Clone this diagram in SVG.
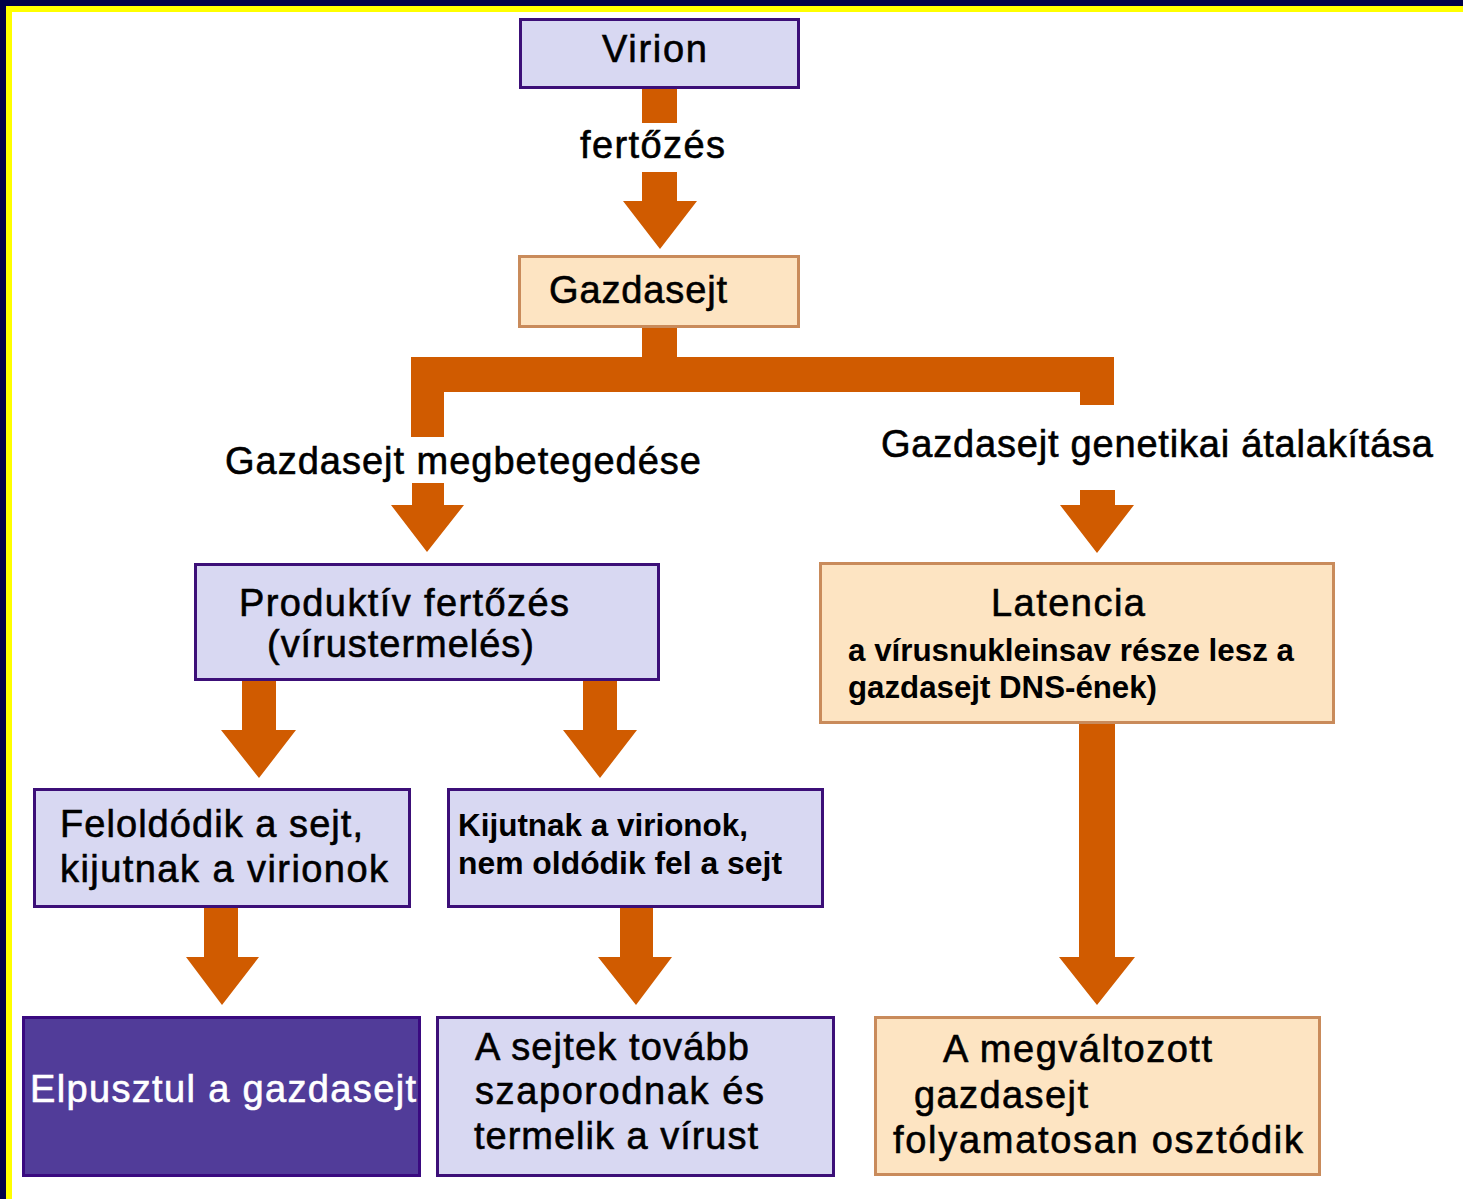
<svg xmlns="http://www.w3.org/2000/svg" width="1463" height="1199" viewBox="0 0 1463 1199">
<style>
text{font-family:"Liberation Sans",Arial,sans-serif;fill:#000;}
.t{font-size:38px;stroke:#000;stroke-width:0.6px;}
.lbl{font-size:38px;stroke:#000;stroke-width:0.6px;}
.nb{font-size:31px;font-weight:bold;}
.purple{fill:#d8d8f2;stroke:#3c0f78;stroke-width:3;}
.peach{fill:#fde4c2;stroke:#c98b5b;stroke-width:3;}
.dark{fill:#513c99;stroke:#3a0a80;stroke-width:3;}
.arr{fill:#d05b00;}
</style>
<rect x="0" y="0" width="1463" height="1199" fill="#ffffff"/>
<rect x="0" y="0" width="1463" height="6" fill="#000048"/>
<rect x="0" y="0" width="6" height="1199" fill="#000048"/>
<rect x="6" y="6" width="1457" height="6" fill="#ffff00"/>
<rect x="6" y="6" width="6" height="1193" fill="#ffff00"/>

<g id="connectors">
<rect class="arr" x="642" y="88" width="35" height="35"/>
<path class="arr" d="M642,172 H677 V201 H697 L660,249 L623,201 H642 Z"/>
<path class="arr" d="M642,327 H677 V357 H1114 V405 H1080 V392 H444 V437 H411 V357 H642 Z"/>
<path class="arr" d="M412,483 H444 V505 H464 L427,552 L391,505 H412 Z"/>
<path class="arr" d="M1080,490 H1115 V505 H1134 L1097,553 L1060,505 H1080 Z"/>
<path class="arr" d="M242,681 H276 V730 H296 L259,778 L221,730 H242 Z"/>
<path class="arr" d="M583,681 H617 V730 H637 L600,778 L563,730 H583 Z"/>
<path class="arr" d="M204,907 H238 V957 H259 L222,1005 L186,957 H204 Z"/>
<path class="arr" d="M620,907 H653 V957 H672 L636,1005 L598,957 H620 Z"/>
<path class="arr" d="M1079,723 H1115 V957 H1135 L1097,1005 L1059,957 H1079 Z"/>
<text class="lbl" x="580" y="158" textLength="145" lengthAdjust="spacing">fertőzés</text>
<text class="lbl" x="225" y="474" textLength="476" lengthAdjust="spacing">Gazdasejt megbetegedése</text>
<text class="lbl" x="881" y="457" textLength="552" lengthAdjust="spacing">Gazdasejt genetikai átalakítása</text>
</g>

<g id="virion">
<rect class="purple" x="520.5" y="19.5" width="278" height="68"/>
<text class="t" x="602" y="62" textLength="105" lengthAdjust="spacing">Virion</text>
</g>

<g id="gazdasejt">
<rect class="peach" x="519.5" y="256.5" width="279" height="70"/>
<text class="t" x="549" y="303" textLength="178" lengthAdjust="spacing">Gazdasejt</text>
</g>

<g id="produktiv">
<rect class="purple" x="195.5" y="564.5" width="463" height="115"/>
<text class="t" x="239" y="616" textLength="330" lengthAdjust="spacing">Produktív fertőzés</text>
<text class="t" x="267" y="657" textLength="267" lengthAdjust="spacing">(vírustermelés)</text>
</g>

<g id="latencia">
<rect class="peach" x="820.5" y="563.5" width="513" height="159"/>
<text class="t" x="991" y="616" textLength="154" lengthAdjust="spacing">Latencia</text>
<text class="nb" x="848" y="661" textLength="446" lengthAdjust="spacingAndGlyphs">a vírusnukleinsav része lesz a</text>
<text class="nb" x="848" y="698" textLength="309" lengthAdjust="spacingAndGlyphs">gazdasejt DNS-ének)</text>
</g>

<g id="feloldodik">
<rect class="purple" x="34.5" y="789.5" width="375" height="117"/>
<text class="t" x="60" y="837" textLength="303" lengthAdjust="spacing">Feloldódik a sejt,</text>
<text class="t" x="60" y="882" textLength="328" lengthAdjust="spacing">kijutnak a virionok</text>
</g>

<g id="kijutnak">
<rect class="purple" x="448.5" y="789.5" width="374" height="117"/>
<text class="nb" x="458" y="836" textLength="290" lengthAdjust="spacingAndGlyphs">Kijutnak a virionok,</text>
<text class="nb" x="458" y="874" textLength="324" lengthAdjust="spacingAndGlyphs">nem oldódik fel a sejt</text>
</g>

<g id="elpusztul">
<rect class="dark" x="23.5" y="1017.5" width="396" height="158"/>
<text class="t" x="30" y="1102" textLength="386" lengthAdjust="spacing" style="fill:#ffffff;stroke:#ffffff">Elpusztul a gazdasejt</text>
</g>

<g id="sejtek">
<rect class="purple" x="437.5" y="1017.5" width="396" height="158"/>
<text class="t" x="475" y="1060" textLength="274" lengthAdjust="spacing">A sejtek tovább</text>
<text class="t" x="475" y="1104" textLength="289" lengthAdjust="spacing">szaporodnak és</text>
<text class="t" x="474" y="1149" textLength="284" lengthAdjust="spacing">termelik a vírust</text>
</g>

<g id="megvaltozott">
<rect class="peach" x="875.5" y="1017.5" width="444" height="157"/>
<text class="t" x="943" y="1062" textLength="269" lengthAdjust="spacing">A megváltozott</text>
<text class="t" x="914" y="1108" textLength="174" lengthAdjust="spacing">gazdasejt</text>
<text class="t" x="893" y="1153" textLength="410" lengthAdjust="spacing">folyamatosan osztódik</text>
</g>
</svg>
